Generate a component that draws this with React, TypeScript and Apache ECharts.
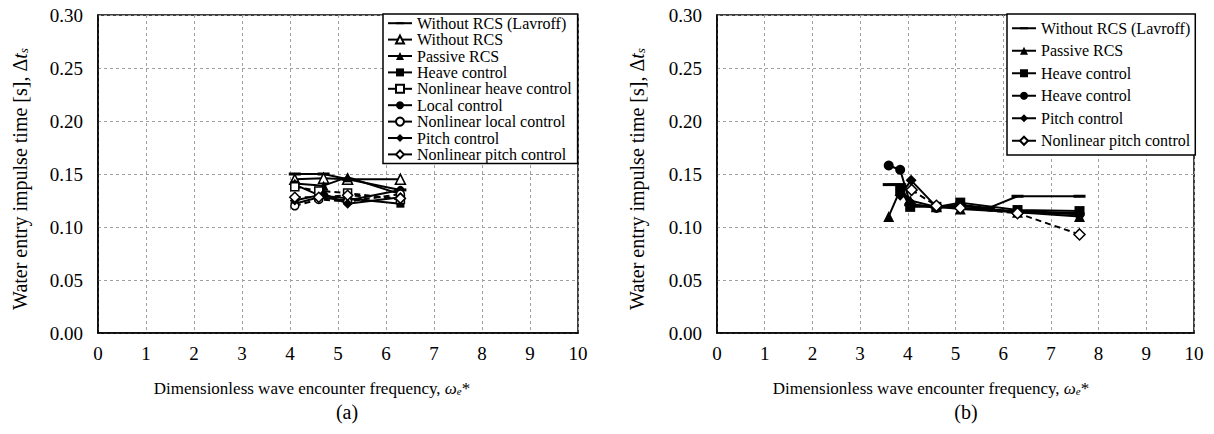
import React, { useEffect, useRef } from "react";
import * as echarts from "echarts";

const FONT = "'Liberation Serif', 'Times New Roman', serif";

// x ticks / y ticks
const xTicks = [0, 1, 2, 3, 4, 5, 6, 7, 8, 9, 10];
const yTicks = [0, 0.05, 0.1, 0.15, 0.2, 0.25, 0.3];

// Panel (a) series: [omega_e*, delta t_s]
const aLavroff = [[4.1, 0.150], [4.7, 0.150], [5.2, 0.145], [6.3, 0.135]];
const aWithout = [[4.1, 0.145], [4.7, 0.146], [5.2, 0.145], [6.3, 0.145]];
const aPassive = [[4.1, 0.141], [4.7, 0.139], [5.2, 0.147], [6.3, 0.131]];
const aHeave = [[4.1, 0.140], [4.6, 0.130], [5.2, 0.127], [6.3, 0.122]];
const aNlHeave = [[4.1, 0.138], [4.6, 0.134], [5.2, 0.132], [6.3, 0.126]];
const aLocal = [[4.1, 0.122], [4.6, 0.128], [5.2, 0.125], [6.3, 0.135]];
const aNlLocal = [[4.1, 0.120], [4.6, 0.126], [5.2, 0.124], [6.3, 0.131]];
const aPitch = [[4.1, 0.125], [4.7, 0.131], [5.2, 0.122], [6.3, 0.128]];
const aNlPitch = [[4.1, 0.128], [4.6, 0.128], [5.2, 0.130], [6.3, 0.127]];

// Panel (b) series
const bLavroff = [[3.6, 0.140], [3.84, 0.140], [4.05, 0.121], [4.6, 0.119], [5.1, 0.121], [5.7, 0.118], [6.3, 0.129], [7.6, 0.129]];
const bPassive = [[3.6, 0.110], [3.84, 0.135], [4.05, 0.125], [4.6, 0.119], [5.1, 0.117], [6.3, 0.114], [7.6, 0.110]];
const bHeave = [[3.84, 0.136], [4.05, 0.119], [4.6, 0.119], [5.1, 0.123], [6.3, 0.116], [7.6, 0.115]];
const bHeave2 = [[3.6, 0.158], [3.84, 0.154], [4.05, 0.122], [4.6, 0.118], [5.1, 0.120], [6.3, 0.114], [7.6, 0.112]];
const bPitch = [[3.84, 0.130], [4.07, 0.144], [4.6, 0.119], [5.1, 0.118], [6.3, 0.115], [7.6, 0.113]];
const bNlPitch = [[4.08, 0.135], [4.6, 0.120], [5.1, 0.118], [6.3, 0.113], [7.6, 0.093]];

const namesA = [
  "Without RCS (Lavroff)",
  "Without RCS",
  "Passive RCS",
  "Heave control",
  "Nonlinear heave control",
  "Local control",
  "Nonlinear local control",
  "Pitch control",
  "Nonlinear pitch control",
];
const ZW = "\u200b";
const namesB = [
  "Without RCS (Lavroff)" + ZW,
  "Passive RCS" + ZW,
  "Heave control" + ZW,
  "Heave control" + ZW + ZW,
  "Pitch control" + ZW,
  "Nonlinear pitch control" + ZW,
];

// thin horizontal bar symbol ("—"); zero-length corner segments keep a square bounding box
const DASH = "path://M0,0 L0,0 M12,12 L12,12 M0,4.5 L12,4.5 L12,7.5 L0,7.5 Z";

function mk(name: string, data: number[][], idx: number, symbol: string, open: boolean, dashed: boolean, size: any) {
  return {
    type: "line",
    name,
    data,
    xAxisIndex: idx,
    yAxisIndex: idx,
    symbol,
    symbolSize: size,
    showSymbol: true,
    lineStyle: { color: "#000", width: 2, type: dashed ? [6, 4] : "solid" },
    itemStyle: { color: open ? "#fff" : "#000", borderColor: "#000", borderWidth: open ? 1.5 : 0 },
    emphasis: { disabled: true },
    z: 3,
  };
}

function axesFor(idx: number) {
  return {
    x: {
      type: "value",
      gridIndex: idx,
      min: xTicks[0],
      max: xTicks[xTicks.length - 1],
      interval: 1,
      axisLine: { show: true, onZero: false, lineStyle: { color: "#000", width: 1.5 } },
      axisTick: { show: false },
      axisLabel: { color: "#000", fontFamily: FONT, fontSize: 19, margin: 11 },
      splitLine: { show: true, lineStyle: { color: "#a0a0a0", type: [3, 3], width: 1 } },
    },
    y: {
      type: "value",
      gridIndex: idx,
      min: yTicks[0],
      max: yTicks[yTicks.length - 1],
      interval: 0.05,
      axisLine: { show: true, lineStyle: { color: "#000", width: 1.5 } },
      axisTick: { show: false },
      axisLabel: { color: "#000", fontFamily: FONT, fontSize: 19, margin: 15, formatter: (v: number) => v.toFixed(2) },
      splitLine: { show: true, lineStyle: { color: "#a0a0a0", type: [3, 3], width: 1 } },
    },
  };
}

function richFor(fs: number) {
  return {
    it: { fontFamily: FONT, fontSize: fs, fontStyle: "italic", fill: "#000" },
    sub: { fontFamily: FONT, fontSize: Math.round(fs * 0.65), fontStyle: "italic", verticalAlign: "bottom", padding: [Math.round(fs * 0.35), 0, 0, 0], fill: "#000" },
    n: { fontFamily: FONT, fontSize: fs, fill: "#000" },
  };
}

function yTitle(x: number) {
  return {
    type: "text",
    x,
    y: 179,
    rotation: Math.PI / 2,
    style: {
      text: "{n|Water entry impulse time [s], Δ}{it|t}{sub|s}",
      rich: richFor(20),
      align: "center",
      verticalAlign: "middle",
      fill: "#000",
    },
  };
}
function xTitle(x: number) {
  return {
    type: "text",
    x,
    y: 388,
    style: {
      text: "{n|Dimensionless wave encounter frequency, }{it|ω}{sub|e}{n|*}",
      rich: richFor(17),
      align: "center",
      verticalAlign: "middle",
      fill: "#000",
    },
  };
}
function caption(x: number, t: string) {
  return {
    type: "text",
    x,
    y: 412,
    style: { text: t, font: `20px ${FONT}`, fill: "#000", align: "center", verticalAlign: "middle" },
  };
}

export default function App() {
  const ref = useRef<HTMLDivElement>(null);
  useEffect(() => {
    if (!ref.current) return;
    const chart = echarts.init(ref.current, null, { renderer: "svg" });
    const A = axesFor(0);
    const B = axesFor(1);
    const legendCommon = {
      orient: "vertical",
      backgroundColor: "#fff",
      borderColor: "#000",
      borderWidth: 1.5,
      itemWidth: 24,
      itemHeight: 10,
      itemGap: 0,
      itemTextGap: 4,
      lineStyle: { type: "solid", width: 2 },
      textStyle: { fontFamily: FONT, fontSize: 16, color: "#000" },
      formatter: (n: string) => n.replace(/\u200b/g, ""),
      selectedMode: false,
    };
    const series: any[] = [
      mk(namesA[0], aLavroff, 0, DASH, false, false, 12),
      mk(namesA[1], aWithout, 0, "triangle", true, false, 10),
      mk(namesA[2], aPassive, 0, "triangle", false, false, 10),
      mk(namesA[3], aHeave, 0, "rect", false, false, 8),
      mk(namesA[4], aNlHeave, 0, "rect", true, true, 8),
      mk(namesA[5], aLocal, 0, "circle", false, false, 8),
      mk(namesA[6], aNlLocal, 0, "circle", true, true, 8),
      mk(namesA[7], aPitch, 0, "diamond", false, false, 10),
      mk(namesA[8], aNlPitch, 0, "diamond", true, true, 10),
      mk(namesB[0], bLavroff, 1, DASH, false, false, 12),
      mk(namesB[1], bPassive, 1, "triangle", false, false, 11),
      mk(namesB[2], bHeave, 1, "rect", false, false, 10),
      mk(namesB[3], bHeave2, 1, "circle", false, false, 10),
      mk(namesB[4], bPitch, 1, "diamond", false, false, 11),
      mk(namesB[5], bNlPitch, 1, "diamond", true, true, 11),
    ];
    chart.setOption({
      animation: false,
      backgroundColor: "#fff",
      textStyle: { fontFamily: FONT },
      grid: [
        { left: 98, top: 15, width: 480, height: 318, show: true, borderColor: "#000", borderWidth: 1.5, backgroundColor: "transparent" },
        { left: 717, top: 15, width: 477, height: 318, show: true, borderColor: "#000", borderWidth: 1.5, backgroundColor: "transparent" },
      ],
      xAxis: [A.x, B.x],
      yAxis: [A.y, B.y],
      legend: [
        { ...legendCommon, data: namesA, left: 383, top: 14, padding: [1, 6, 1, 4], textStyle: { ...legendCommon.textStyle, lineHeight: 16.4 } },
        { ...legendCommon, data: namesB, left: 1007, top: 14, padding: [3, 5, 3, 4], textStyle: { ...legendCommon.textStyle, lineHeight: 22.5 } },
      ],
      graphic: [yTitle(20), yTitle(637), xTitle(312), xTitle(931), caption(347, "(a)"), caption(966, "(b)")],
      series,
    });
    return () => chart.dispose();
  }, []);
  return <div ref={ref} style={{ position: "absolute", left: 0, top: 0, width: 1214, height: 434 }} />;
}
